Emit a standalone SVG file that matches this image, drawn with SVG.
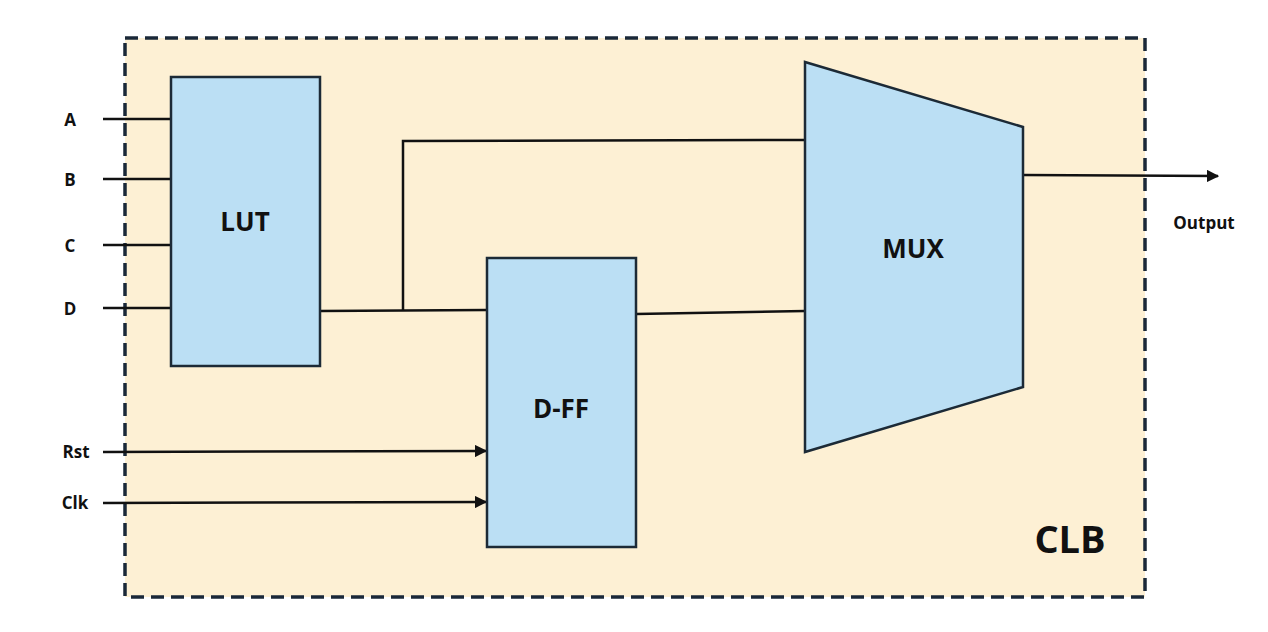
<svg xmlns="http://www.w3.org/2000/svg" width="1268" height="632" viewBox="0 0 1268 632">
<defs>
<style>
.blk{fill:#bbdff4;stroke:#1c2a36;stroke-width:2.5}
.w{stroke:#111;stroke-width:2.5;fill:none}
.lbl{font-family:"Open Sans","Liberation Sans",sans-serif;font-weight:bold;fill:#111}
.pin{font-size:17px;text-anchor:middle}
.big{font-size:26px;text-anchor:middle}
</style>
<marker id="arr" viewBox="0 0 10 10" refX="9" refY="5" markerWidth="5" markerHeight="5" orient="auto" markerUnits="strokeWidth">
<path d="M0,0 L10,5 L0,10 z" fill="#111"/>
</marker>
</defs>
<rect width="1268" height="632" fill="#ffffff"/>
<g id="clb">
<rect x="125" y="38" width="1020" height="559" fill="#fdf0d4" stroke="#1a2838" stroke-width="3.5" stroke-dasharray="13,7"/>
<text class="lbl" x="1070" y="553" font-size="38" text-anchor="middle">CLB</text>
</g>
<g id="connectors">
<line class="w" x1="103" y1="119" x2="171" y2="119"/>
<line class="w" x1="103" y1="179" x2="171" y2="179"/>
<line class="w" x1="103" y1="245" x2="171" y2="245"/>
<line class="w" x1="103" y1="308" x2="171" y2="308"/>
<polyline class="w" points="320,311 487,310"/>
<polyline class="w" points="403,311 403,141 805,140"/>
<polyline class="w" points="636,314 805,311"/>
<line class="w" x1="103" y1="452" x2="486" y2="451" marker-end="url(#arr)"/>
<line class="w" x1="103" y1="503" x2="486" y2="502" marker-end="url(#arr)"/>
<line class="w" x1="1023" y1="175" x2="1218" y2="176" marker-end="url(#arr)"/>
</g>
<g id="inputs">
<text class="lbl pin" x="70" y="126">A</text>
<text class="lbl pin" x="70" y="186">B</text>
<text class="lbl pin" x="70" y="252">C</text>
<text class="lbl pin" x="70" y="315">D</text>
<text class="lbl pin" x="76" y="458">Rst</text>
<text class="lbl pin" x="75" y="509">Clk</text>
</g>
<g id="lut">
<rect class="blk" x="171" y="77" width="149" height="289"/>
<text class="lbl big" x="245" y="231">LUT</text>
</g>
<g id="dff">
<rect class="blk" x="487" y="258" width="149" height="289"/>
<text class="lbl big" x="561" y="418">D-FF</text>
</g>
<g id="mux">
<polygon class="blk" points="805,62 1023,127 1023,387 805,452"/>
<text class="lbl big" x="913" y="258">MUX</text>
</g>
<g id="output">
<text class="lbl pin" x="1204" y="229">Output</text>
</g>
</svg>
